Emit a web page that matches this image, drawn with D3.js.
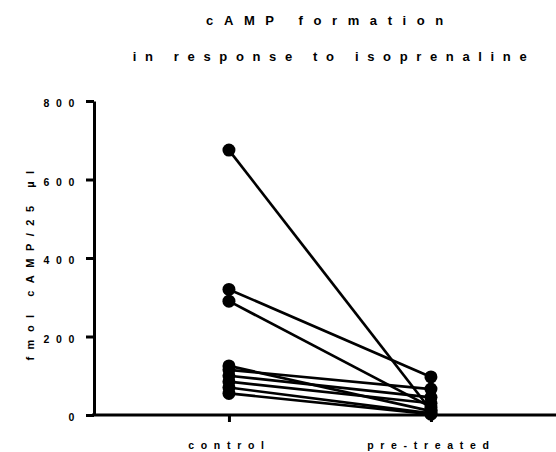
<!DOCTYPE html>
<html>
<head>
<meta charset="utf-8">
<script src="https://cdn.jsdelivr.net/npm/d3@7"></script>
<style>
  body { margin: 0; background: #fff; }
  text { font-family: "Liberation Sans", Arial, sans-serif; font-weight: bold; fill: #000; }
</style>
</head>
<body>
<svg id="chart"></svg>
<script>
// data
var groups = ["control", "pre-treated"];
var controlValues = [675, 320, 290, 125, 115, 100, 85, 70, 55];
var pretreatedValues = [12, 97, 20, 10, 66, 45, 30, 4, 2];
var yTicks = [0, 200, 400, 600, 800];

var titleLines = ["cAMP formation", "in response to isoprenaline"];
var yLabel = "fmol cAMP/25 \u00b5l";

// sizes
var fullWidth = 556;
var fullHeight = 452;
var margin = {top: 101, right: 0, bottom: 37, left: 94};
var width = fullWidth - margin.left - margin.right;
var height = fullHeight - margin.top - margin.bottom;
var pointRadius = 6.5;

var svg = d3.select("#chart")
  .attr("width", fullWidth)
  .attr("height", fullHeight);

var g = svg.append("g")
  .attr("transform", "translate(" + margin.left + "," + margin.top + ")");

// x is a linear scale over group index so the axis line can run past the groups
var xScale = d3.scaleLinear()
  .domain([-0.668, 1.619])
  .range([0, width]);

var yScale = d3.scaleLinear()
  .domain([0, 800])
  .range([height, 0]);

var xAxis = d3.axisBottom(xScale)
  .tickValues([0, 1])
  .tickFormat(function(d) { return groups[d]; })
  .tickSizeInner(7)
  .tickSizeOuter(0)
  .tickPadding(20);

var yAxis = d3.axisLeft(yScale)
  .tickValues(yTicks)
  .tickSizeInner(8)
  .tickSizeOuter(0)
  .tickPadding(5);

// pairs of values, one line per subject
var pairs = controlValues.map(function(v, i) {
  return [v, pretreatedValues[i]];
});

var line = d3.line()
  .x(function(d, i) { return xScale(i); })
  .y(function(d) { return yScale(d); });

g.selectAll(".pair")
  .data(pairs)
  .enter().append("path")
  .attr("class", "pair")
  .attr("d", line)
  .attr("fill", "none")
  .attr("stroke", "#000")
  .attr("stroke-width", 2.7);

pairs.forEach(function(p) {
  p.forEach(function(v, i) {
    g.append("circle")
      .attr("cx", xScale(i))
      .attr("cy", yScale(v))
      .attr("r", pointRadius)
      .attr("fill", "#000");
  });
});

// axes
var xAxisG = g.append("g")
  .attr("transform", "translate(0," + height + ")")
  .call(xAxis);

var yAxisG = g.append("g")
  .call(yAxis);

[xAxisG, yAxisG].forEach(function(a) {
  a.select(".domain").attr("stroke-width", 3);
  a.selectAll(".tick line").attr("stroke-width", 3);
  a.selectAll("text")
    .style("font-size", "10.5px")
    .style("letter-spacing", "6.7px")
    .attr("fill", "#000");
});
xAxisG.select(".domain").attr("d", "M-2,0H" + width);
yAxisG.selectAll("text").attr("dy", "0.55em");

// y axis label
svg.append("text")
  .attr("transform", "translate(34," + 262 + ") rotate(-90)")
  .attr("text-anchor", "middle")
  .style("font-size", "11px")
  .style("letter-spacing", "7.5px")
  .text(yLabel);

// title
svg.append("text")
  .attr("x", 330)
  .attr("y", 25)
  .attr("text-anchor", "middle")
  .style("font-size", "13px")
  .style("letter-spacing", "10.6px")
  .text(titleLines[0]);

svg.append("text")
  .attr("x", 334)
  .attr("y", 61)
  .attr("text-anchor", "middle")
  .style("font-size", "13px")
  .style("letter-spacing", "8.65px")
  .text(titleLines[1]);
</script>
</body>
</html>
